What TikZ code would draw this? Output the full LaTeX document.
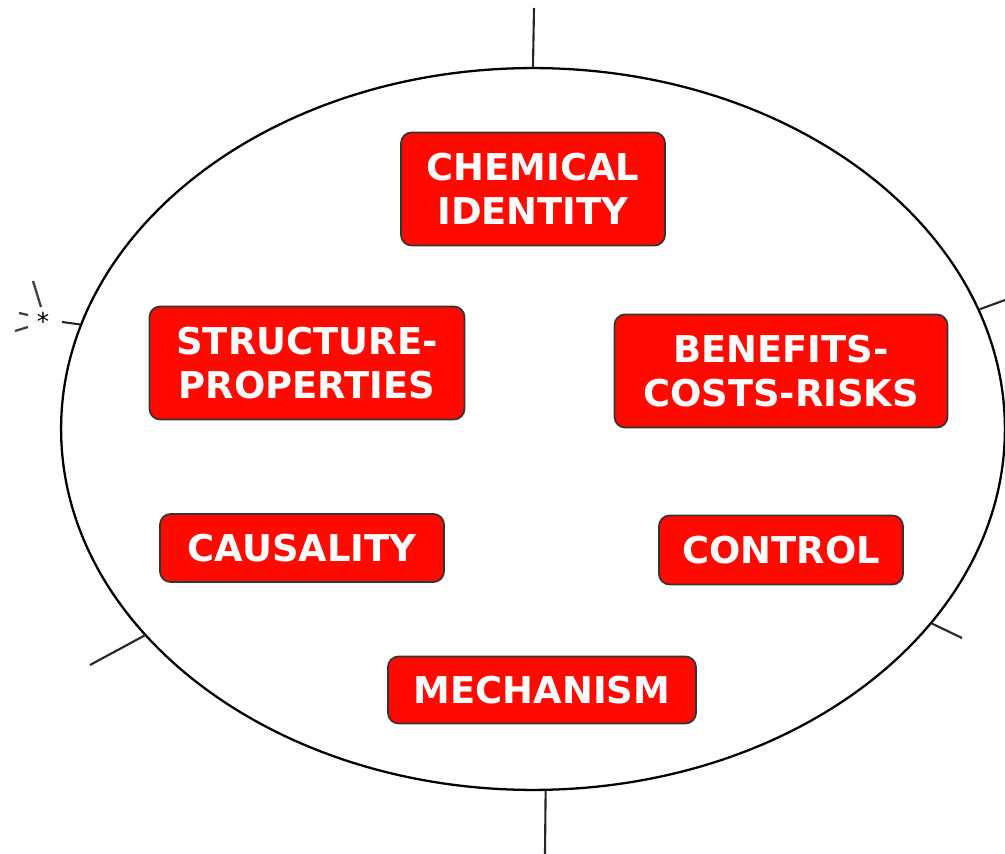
\documentclass[tikz,border=0pt]{standalone}
\usepackage{fontspec}
\setmainfont{DejaVu Sans}
\usetikzlibrary{shapes.geometric}
\colorlet{boxred}{red!92!orange}
\colorlet{boxedge}{black!80}
\newcommand{\boxfont}{\fontsize{21}{25}\selectfont\bfseries}

\begin{document}
\begin{tikzpicture}[x=0.02cm,y=-0.02cm,
    theme/.style={draw=boxedge,line width=1pt,fill=boxred,text=white,
                  rounded corners=6pt,align=center,inner sep=0pt,
                  font=\boxfont},
    spoke/.style={line width=1.2pt,black!85},
    tick/.style={line width=1.3pt,black!75}
]
\useasboundingbox (0,0) rectangle (1005,854);

% the big ring
\node (ring) [draw,line width=1.3pt,ellipse,minimum width=18.88cm,
              minimum height=14.44cm,inner sep=0pt] at (533,429) {};

% spokes leaving the ring
\coordinate (topend) at (534,8);
\coordinate (botend) at (545,854);
\coordinate (rightend) at (1005,300);
\coordinate (lowrightend) at (962,638);
\coordinate (lowleftend) at (90,665);
\coordinate (leftend) at (62,322);
\draw[spoke] (ring.north) -- (topend);
\draw[spoke] (ring.-88) -- (botend);
\draw[spoke] (ring.15) -- (rightend);
\draw[spoke] (ring.-26) -- (lowrightend);
\draw[spoke] (ring.208) -- (lowleftend);
\draw[spoke] (ring.167) -- (leftend);

% bits of a label left of the ring
\node (star) at (43,321) {\fontsize{14}{14}\selectfont *};
\draw[tick] (19,313) -- (28,315);
\draw[tick] (15,331) -- (28,327);
\draw[tick] (33,281) -- (41,307);

% themes
\node (chem) [theme,minimum width=5.28cm,minimum height=2.26cm] at (533,189)
      {CHEMICAL\\IDENTITY};
\node (struct) [theme,minimum width=6.3cm,minimum height=2.26cm] at (307,363)
      {STRUCTURE-\\PROPERTIES};
\node (bcr) [theme,minimum width=6.66cm,minimum height=2.26cm] at (781,371)
      {BENEFITS-\\COSTS-RISKS};
\node (caus) [theme,minimum width=5.68cm,minimum height=1.36cm] at (302,548)
      {CAUSALITY};
\node (ctrl) [theme,minimum width=4.88cm,minimum height=1.38cm] at (781,550)
      {CONTROL};
\node (mech) [theme,minimum width=6.16cm,minimum height=1.34cm] at (542,690)
      {MECHANISM};
\end{tikzpicture}
\end{document}
